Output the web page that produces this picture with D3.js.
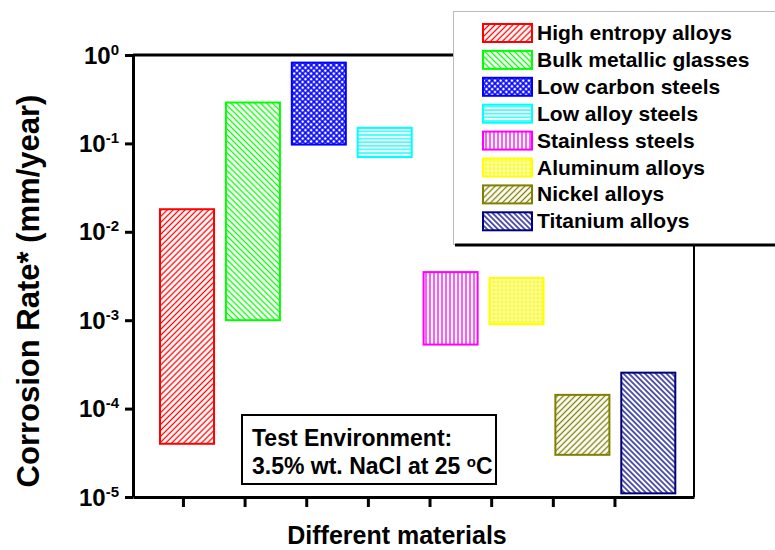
<!DOCTYPE html>
<html>
<head>
<meta charset="utf-8">
<script src="https://cdn.jsdelivr.net/npm/d3@7"></script>
<style>
  body { margin: 0; background: #fff; }
  text { font-family: "Liberation Sans", Arial, sans-serif; font-weight: bold; fill: #000; }
</style>
</head>
<body>
<div id="chartDiv"></div>
<script>
// corrosion rate ranges, log scale
var materials = ["High entropy alloys", "Bulk metallic glasses", "Low carbon steels", "Low alloy steels",
  "Stainless steels", "Aluminum alloys", "Nickel alloys", "Titanium alloys"];
var rateLow  = [4e-5, 1e-3, 0.097, 0.07, 5.3e-4, 9e-4, 3e-5, 1.1e-5];
var rateHigh = [0.018, 0.29, 0.82, 0.15, 0.0035, 0.003, 1.43e-4, 2.55e-4];
var yTickValues = [1e-5, 1e-4, 1e-3, 1e-2, 1e-1, 1];
var xTickValues = [1, 2, 3, 4, 5, 6, 7, 8];

;(function() {

  var width = 775;
  var height = 550;
  var margin = { top: 55, right: 81, bottom: 53, left: 133 };

  var colors = ["#ff0000", "#00ff00", "#0000ff", "#00ffff", "#ff00ff", "#ffff00", "#808000", "#000080"];
  // hatch: [kind, spacing]
  var hatches = [["fwd", 4.2], ["back", 4.2], ["cross", 4], ["horiz", 3.6], ["vert", 4], ["grid", 4], ["fwd", 4.2], ["back", 3.8]];

  var chart = d3.select("#chartDiv").append("svg")
    .attr("width", width)
    .attr("height", height);

  var defs = chart.append("defs");
  hatches.forEach(function(h, i) {
    var s = h[1];
    var p = defs.append("pattern")
      .attr("id", "hatch" + i)
      .attr("patternUnits", "userSpaceOnUse")
      .attr("width", s)
      .attr("height", s);
    if (h[0] == "fwd") p.attr("patternTransform", "rotate(45)");
    if (h[0] == "back") p.attr("patternTransform", "rotate(-45)");
    if (h[0] == "cross") p.attr("patternTransform", "rotate(45)");
    p.append("rect").attr("width", s).attr("height", s).attr("fill", "#fff");
    var sw = h[0] == "cross" ? 1.6 : 1.3;
    if (h[0] != "horiz") {
      p.append("line").attr("x1", s / 2).attr("y1", 0).attr("x2", s / 2).attr("y2", s)
        .attr("stroke", colors[i]).attr("stroke-width", sw);
    }
    if (h[0] == "horiz" || h[0] == "grid" || h[0] == "cross") {
      p.append("line").attr("x1", 0).attr("y1", s / 2).attr("x2", s).attr("y2", s / 2)
        .attr("stroke", colors[i]).attr("stroke-width", sw);
    }
  });

  var plotW = width - margin.left - margin.right;
  var plotH = height - margin.top - margin.bottom;

  var yScale = d3.scaleLog()
    .domain([1e-5, 1])
    .range([margin.top + plotH, margin.top]);

  var xBand = d3.scaleBand()
    .domain(materials)
    .range([160, 675.3])
    .paddingInner(0.18)
    .paddingOuter(0);

  var xTicks = d3.scaleLinear()
    .domain([0.19, 9.29])
    .range([margin.left, margin.left + plotW]);

  // bars
  chart.append("g").selectAll("rect")
    .data(materials)
    .enter().append("rect")
      .attr("x", function(d) { return xBand(d); })
      .attr("width", xBand.bandwidth())
      .attr("y", function(d, i) { return yScale(rateHigh[i]); })
      .attr("height", function(d, i) { return yScale(rateLow[i]) - yScale(rateHigh[i]); })
      .attr("fill", function(d, i) { return "url(#hatch" + i + ")"; })
      .attr("stroke", function(d, i) { return colors[i]; })
      .attr("stroke-width", 2);

  // frame
  chart.append("line").attr("x1", margin.left).attr("x2", margin.left + plotW)
    .attr("y1", margin.top).attr("y2", margin.top)
    .attr("stroke", "#000").attr("stroke-width", 3);
  chart.append("line").attr("x1", margin.left + plotW).attr("x2", margin.left + plotW)
    .attr("y1", margin.top).attr("y2", margin.top + plotH)
    .attr("stroke", "#000").attr("stroke-width", 2);

  // y axis
  var yAxis = d3.axisLeft(yScale)
    .tickValues(yTickValues)
    .tickSize(8)
    .tickSizeOuter(0)
    .tickFormat("");
  var yg = chart.append("g")
    .attr("transform", "translate(" + margin.left + ",0)")
    .call(yAxis);
  yg.select(".domain").attr("stroke-width", 3);
  yg.selectAll(".tick line").attr("stroke-width", 3);

  chart.append("g").selectAll("text")
    .data(yTickValues)
    .enter().append("text")
      .attr("x", 119)
      .attr("y", function(d) { return yScale(d); })
      .attr("dy", "0.36em")
      .attr("text-anchor", "end")
      .style("font-size", "24px")
      .each(function(d) {
        var t = d3.select(this);
        t.append("tspan").text("10");
        t.append("tspan")
          .attr("dy", "-0.6em")
          .style("font-size", "15px")
          .text(Math.round(Math.log10(d)));
      });

  // x axis
  var xAxis = d3.axisBottom(xTicks)
    .tickValues(xTickValues)
    .tickSize(10)
    .tickSizeOuter(0)
    .tickFormat("");
  var xg = chart.append("g")
    .attr("transform", "translate(0," + (margin.top + plotH) + ")")
    .call(xAxis);
  xg.select(".domain").attr("stroke-width", 3);
  xg.selectAll(".tick line").attr("stroke-width", 3);

  // axis titles
  chart.append("text")
    .attr("x", 397)
    .attr("y", 544)
    .attr("text-anchor", "middle")
    .style("font-size", "25px")
    .text("Different materials");

  chart.append("text")
    .attr("text-anchor", "middle")
    .attr("transform", "translate(39,291) rotate(-90)")
    .style("font-size", "31px")
    .text("Corrosion Rate* (mm/year)");

  // test box
  chart.append("rect")
    .attr("x", 242).attr("y", 415).attr("width", 254).attr("height", 69)
    .attr("fill", "#fff").attr("stroke", "#000").attr("stroke-width", 2);
  chart.append("text")
    .attr("x", 252).attr("y", 446)
    .style("font-size", "23px")
    .text("Test Environment:");
  var t2 = chart.append("text")
    .attr("x", 252).attr("y", 474)
    .style("font-size", "23px");
  t2.append("tspan").text("3.5% wt. NaCl at 25 ");
  t2.append("tspan").attr("dy", "-0.45em").style("font-size", "15px").text("o");
  t2.append("tspan").attr("dy", "0.3em").text("C");

  // legend
  var legend = chart.append("g");
  legend.append("rect")
    .attr("x", 453.5).attr("y", 11.5).attr("width", 340).attr("height", 233)
    .attr("fill", "#fff").attr("stroke", "#bbb").attr("stroke-width", 1);
  legend.append("line")
    .attr("x1", 455).attr("x2", 775).attr("y1", 245).attr("y2", 245)
    .attr("stroke", "#000").attr("stroke-width", 3);

  var rows = legend.selectAll(".row")
    .data(materials)
    .enter().append("g")
      .attr("class", "row")
      .attr("transform", function(d, i) { return "translate(0," + (24 + i * 26.9) + ")"; });
  rows.append("rect")
    .attr("x", 483).attr("y", 0).attr("width", 49).attr("height", 18)
    .attr("fill", function(d, i) { return "url(#hatch" + i + ")"; })
    .attr("stroke", function(d, i) { return colors[i]; })
    .attr("stroke-width", 2);
  rows.append("text")
    .attr("x", 537).attr("y", 16)
    .style("font-size", "21px")
    .text(function(d) { return d; });

})();
</script>
</body>
</html>
